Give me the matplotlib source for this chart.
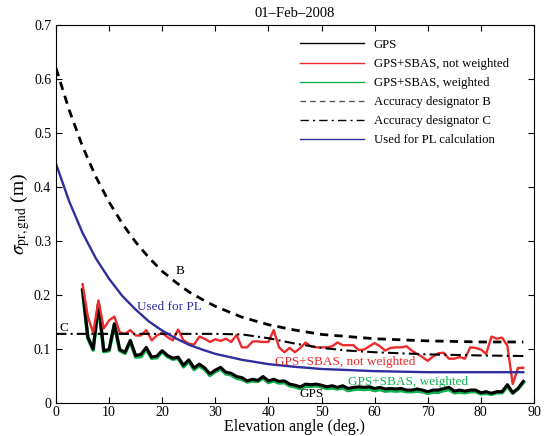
import numpy as np
from matplotlib import pyplot as plt
from matplotlib.lines import Line2D

plt.rcParams['font.family'] = ['Liberation Serif', 'DejaVu Serif']
plt.rcParams['mathtext.fontset'] = 'stix'

# measured series, one value per degree from 5 to 88 deg
elev = np.arange(5, 89)
gps = [0.21, 0.122, 0.10, 0.184, 0.097, 0.099, 0.147, 0.099, 0.094, 0.116,
       0.088, 0.09, 0.103, 0.085, 0.087, 0.097, 0.088, 0.083, 0.085, 0.07,
       0.08, 0.065, 0.072, 0.065, 0.054, 0.061, 0.066, 0.057, 0.055, 0.049,
       0.047, 0.041, 0.044, 0.042, 0.049, 0.041, 0.044, 0.04, 0.041, 0.035,
       0.033, 0.03, 0.035, 0.034, 0.035, 0.033, 0.03, 0.032, 0.029, 0.032,
       0.027, 0.029, 0.03, 0.029, 0.03, 0.027, 0.029, 0.026, 0.027, 0.026,
       0.027, 0.024, 0.024, 0.026, 0.024, 0.021, 0.024, 0.024, 0.027, 0.029,
       0.022, 0.024, 0.022, 0.024, 0.024, 0.019, 0.021, 0.018, 0.021, 0.021,
       0.034, 0.019, 0.027, 0.04]
sbas_nw = [0.22, 0.16, 0.13, 0.19, 0.138, 0.153, 0.16, 0.131, 0.128, 0.135,
           0.125, 0.125, 0.135, 0.116, 0.125, 0.13, 0.122, 0.116, 0.136, 0.116,
           0.11, 0.108, 0.123, 0.119, 0.113, 0.118, 0.115, 0.119, 0.113, 0.126,
           0.103, 0.103, 0.114, 0.114, 0.113, 0.113, 0.135, 0.103, 0.094, 0.102,
           0.094, 0.102, 0.112, 0.105, 0.103, 0.103, 0.103, 0.105, 0.112, 0.107,
           0.107, 0.107, 0.098, 0.099, 0.105, 0.111, 0.105, 0.097, 0.102, 0.103,
           0.103, 0.105, 0.097, 0.091, 0.085, 0.078, 0.086, 0.092, 0.093, 0.082,
           0.082, 0.085, 0.082, 0.103, 0.102, 0.099, 0.091, 0.123, 0.119, 0.121,
           0.106, 0.035, 0.065, 0.065]
sbas_w = [0.208, 0.12, 0.098, 0.182, 0.095, 0.097, 0.145, 0.097, 0.092, 0.114,
          0.085, 0.086, 0.1, 0.083, 0.084, 0.095, 0.086, 0.081, 0.083, 0.067,
          0.077, 0.062, 0.069, 0.062, 0.051, 0.058, 0.063, 0.054, 0.052, 0.046,
          0.044, 0.039, 0.041, 0.04, 0.046, 0.038, 0.041, 0.037, 0.038, 0.032,
          0.03, 0.027, 0.031, 0.031, 0.032, 0.03, 0.027, 0.028, 0.026, 0.028,
          0.023, 0.025, 0.026, 0.025, 0.026, 0.023, 0.025, 0.022, 0.023, 0.022,
          0.023, 0.021, 0.021, 0.022, 0.021, 0.018, 0.02, 0.02, 0.023, 0.025,
          0.019, 0.02, 0.019, 0.021, 0.021, 0.017, 0.018, 0.016, 0.019, 0.019,
          0.031, 0.018, 0.026, 0.038]

# model curves
curve_elev = [0, 2.5, 5, 7.5, 10, 12.5, 15, 17.5, 20, 22.5, 25, 27.5, 30,
              35, 40, 45, 50, 55, 60, 65, 70, 75, 80, 88]
gad_b = [0.62, 0.542, 0.475, 0.419, 0.372, 0.332, 0.298, 0.269, 0.244, 0.224,
         0.206, 0.192, 0.179, 0.159, 0.145, 0.135, 0.127, 0.123, 0.119, 0.117,
         0.115, 0.114, 0.113, 0.113]
gad_c = [0.128, 0.128, 0.128, 0.128, 0.128, 0.128, 0.128, 0.128, 0.128, 0.128,
         0.128, 0.128, 0.128, 0.127, 0.12, 0.11, 0.102, 0.097, 0.094, 0.092,
         0.09, 0.089, 0.088, 0.087]
pl_curve = [0.443, 0.373, 0.315, 0.268, 0.23, 0.198, 0.173, 0.151, 0.134, 0.12,
            0.108, 0.099, 0.091, 0.08, 0.072, 0.067, 0.063, 0.061, 0.059, 0.058,
            0.057, 0.057, 0.057, 0.057]

fig = plt.figure(figsize=(5.5, 4.36), dpi=100)
ax = fig.add_axes([0.1018, 0.0757, 0.869, 0.867])

red = '#ec2b2b'
green = '#10b050'
blue = '#2e2e9c'

ax.plot(elev, sbas_w, color=green, lw=2.6)
ax.plot(elev, gps, color='black', lw=2.2)
ax.plot(elev, sbas_nw, color=red, lw=1.7)
ax.plot(curve_elev, gad_b, color='black', ls=(0, (3, 2.2)), lw=2)
ax.plot(curve_elev, gad_c, color='black', ls=(0, (5, 2, 1, 2)), lw=1.5)
ax.plot(curve_elev, pl_curve, color=blue, lw=1.7)

ax.text(23.3, 0.245, 'B', fontsize=9.5, ha='center', va='center')
ax.text(15.2, 0.178, 'Used for PL', fontsize=9.5, color=blue, va='center')
ax.text(1.5, 0.138, 'C', fontsize=9.5, ha='center', va='center')
ax.text(41.2, 0.075, 'GPS+SBAS, not weighted', fontsize=9.5, color=red, va='center')
ax.text(55, 0.038, 'GPS+SBAS, weighted', fontsize=9.5, color=green, va='center')
ax.text(45.8, 0.016, 'GPS', fontsize=9.5, va='center')

ax.set_xlim(0, 90)
ax.set_ylim(0, 0.7)
ax.set_xticks(range(0, 91, 10))
ax.set_yticks(np.arange(0, 0.71, 0.1))
ax.set_yticklabels(['0', '0.1', '0.2', '0.3', '0.4', '0.5', '0.6', '0.7'])
ax.tick_params(direction='in', top=True, right=True, length=4, labelsize=10)
ax.tick_params(axis='x', pad=2)
ax.set_xlabel('Elevation angle (deg.)', fontsize=11.5, labelpad=0)
ax.set_ylabel(r'$\sigma_{\rm pr,gnd}$ (m)', fontsize=14, labelpad=1)
ax.set_title('01\u2013Feb\u20132008', fontsize=10.5, pad=6)

# legend uses thin sample lines like the original
handles = [Line2D([], [], color='black', lw=1),
           Line2D([], [], color=red, lw=1),
           Line2D([], [], color=green, lw=1),
           Line2D([], [], color='#555555', lw=1, ls=(0, (4, 3))),
           Line2D([], [], color='black', lw=1, ls=(0, (6, 3, 1.5, 3))),
           Line2D([], [], color=blue, lw=1)]
labels = ['GPS', 'GPS+SBAS, not weighted', 'GPS+SBAS, weighted',
          'Accuracy designator B', 'Accuracy designator C', 'Used for PL calculation']
ax.legend(handles, labels, loc='upper left', bbox_to_anchor=(0.51, 0.963),
          frameon=False, fontsize=9.2, handlelength=5.0, handletextpad=0.8,
          labelspacing=0.55, borderpad=0, borderaxespad=0)

plt.savefig('out.png', dpi=100)
